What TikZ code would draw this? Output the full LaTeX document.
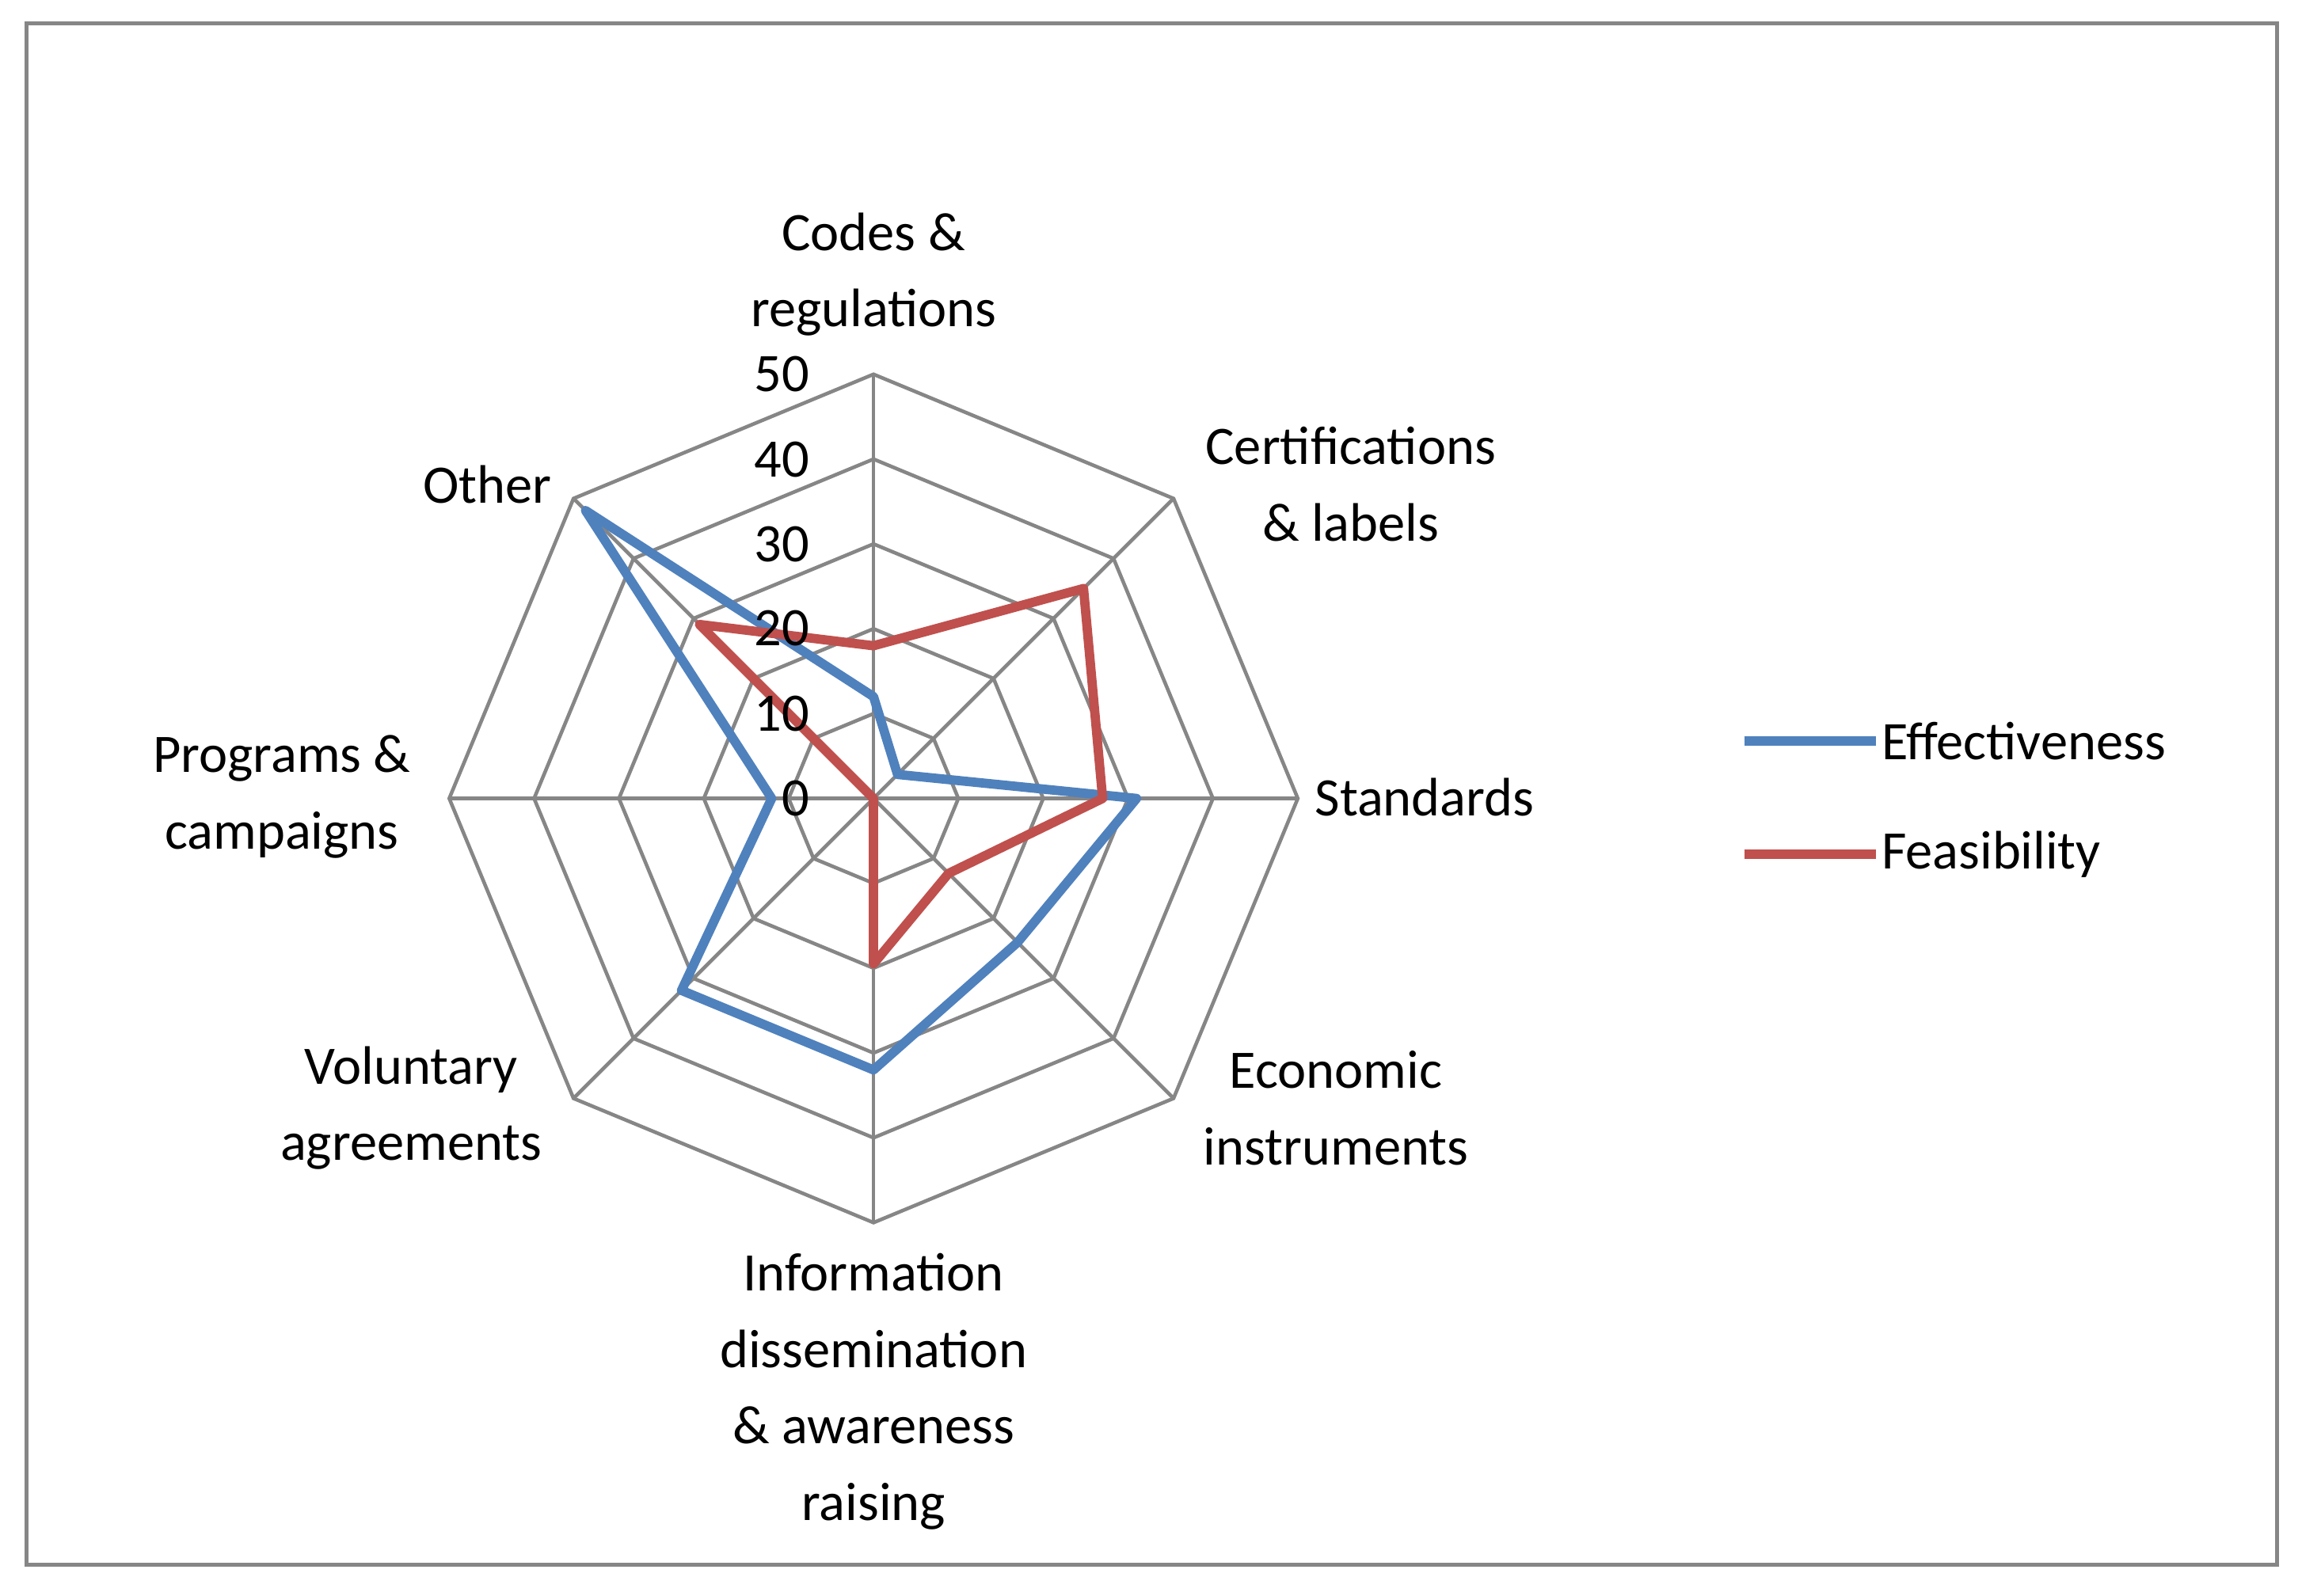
\documentclass[tikz,border=0pt]{standalone}
\usepackage{fontspec}
\setmainfont{Carlito}
\definecolor{eff}{HTML}{4F81BD}
\definecolor{fea}{HTML}{C0504D}
\definecolor{grd}{HTML}{868686}
\begin{document}
\begin{tikzpicture}[x=0.01cm,y=-0.01cm,
  lbl/.style={align=center,font=\fontsize{10.5}{14.8}\selectfont,inner sep=0pt},
  tick/.style={anchor=east,font=\fontsize{10.5}{12}\selectfont,inner sep=0pt},
  grid/.style={grd,line width=0.7pt},
  ser/.style={line width=1.8pt,line join=round}]
\useasboundingbox (0,0) rectangle (1568,1087);
\draw[grd,line width=0.8pt] (18,16) rectangle (1551,1066);
\begin{scope}[shift={(595,544)},y=0.01cm]
\coordinate (O) at (0,0);
\foreach \r in {1,...,5}{
  \draw[grid] (90:\r*57.8) \foreach \a in {45,0,-45,-90,-135,180,135}{ -- (\a:\r*57.8)} -- cycle;}
\foreach \a in {90,45,0,-45,-90,-135,180,135}{\draw[grid] (O) -- (\a:289);}
\draw[ser,eff] (90:12*5.78) -- (45:4*5.78) -- (0:31*5.78) -- (-45:24*5.78) -- (-90:32*5.78) -- (-135:32*5.78) -- (180:12*5.78) -- (135:48*5.78) -- cycle;
\draw[ser,fea] (90:18*5.78) -- (45:35*5.78) -- (0:27*5.78) -- (-45:12.5*5.78) -- (-90:19.5*5.78) -- (-135:0) -- (180:0) -- (135:29*5.78) -- cycle;
\end{scope}
\foreach \v/\y in {0/544,10/486,20/428,30/371,40/313,50/255}{\node[tick] (t\v) at (552,\y) {\v};}
\node[lbl] (c1) at (595,187) {Codes \&\\regulations};
\node[lbl] (c2) at (920,330) {Certifications\\\& labels};
\node[lbl,anchor=west] (c3) at (895,543) {Standards};
\node[lbl] (c4) at (910,755) {Economic\\instruments};
\node[lbl] (c5) at (595,948) {Information\\dissemination\\\& awareness\\raising};
\node[lbl] (c6) at (280,755) {Voluntary\\agreements};
\node[lbl] (c7) at (192,543) {Programs \&\\campaigns};
\node[lbl] (c8) at (332,330) {Other};
\coordinate (l1a) at (1188,505); \coordinate (l1b) at (1278,505);
\coordinate (l2a) at (1188,582); \coordinate (l2b) at (1278,582);
\draw[ser,eff] (l1a) -- (l1b);
\draw[ser,fea] (l2a) -- (l2b);
\node[lbl,anchor=west] (e1) at (1281,505) {Effectiveness};
\node[lbl,anchor=west] (e2) at (1281,582) {Feasibility};
\end{tikzpicture}
\end{document}
